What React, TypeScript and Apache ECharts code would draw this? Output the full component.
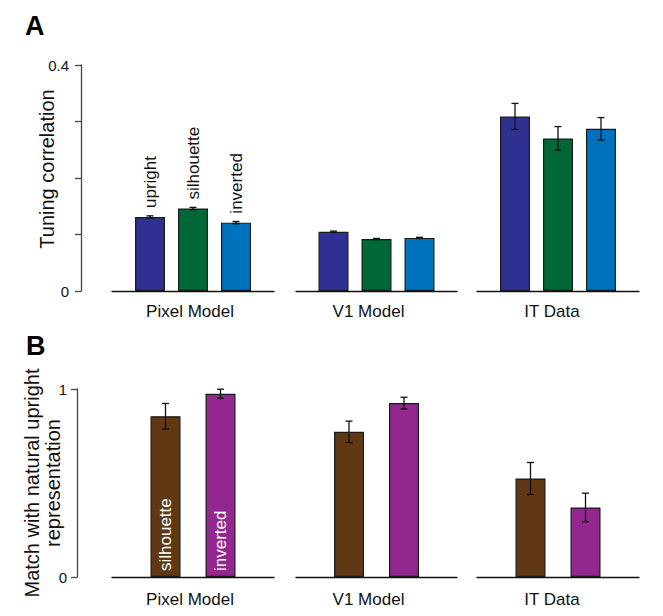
import React, { useEffect, useRef } from "react";
import * as echarts from "echarts";

const categories = ["Pixel Model", "V1 Model", "IT Data"];

// Panel A: tuning correlation
const conditionsA = ["upright", "silhouette", "inverted"];
const uprightCorr = [0.131, 0.105, 0.309];
const silhouetteCorr = [0.146, 0.092, 0.27];
const invertedCorr = [0.121, 0.094, 0.287];
const uprightCorrErr = [0.002, 0.001, 0.023];
const silhouetteCorrErr = [0.002, 0.001, 0.021];
const invertedCorrErr = [0.002, 0.001, 0.02];
const tickLabelsA = [0, 0.4];

// Panel B: match with natural upright representation
const conditionsB = ["silhouette", "inverted"];
const silhouetteMatch = [0.855, 0.772, 0.524];
const invertedMatch = [0.975, 0.925, 0.37];
const silhouetteMatchErr = [0.068, 0.057, 0.085];
const invertedMatchErr = [0.024, 0.031, 0.076];
const tickLabelsB = [0, 1];

const FONT = "'Liberation Sans', Arial, Helvetica, sans-serif";
const colorsA = ["#2E3192", "#006837", "#0071BC"];
const colorsB = ["#603813", "#93278F"];
const groupLefts = [112, 296, 477];
const groupWidths = [162, 161, 162];
const labelShift = [6, 16, 12];
const BAR_W = 30;
const SPACING_A = 43;
const SPACING_B = 55;

function errorSeries(gridIdx: number, rows: number[][], spacing: number) {
  return {
    type: "custom",
    xAxisIndex: gridIdx,
    yAxisIndex: gridIdx,
    z: 10,
    silent: true,
    encode: { x: 0, y: 1 },
    data: rows,
    renderItem: (params: any, api: any) => {
      const x = api.value(0);
      const v = api.value(1);
      const e = api.value(2);
      const k = api.value(3);
      const hi = api.coord([x, v + e]);
      const lo = api.coord([x, v - e]);
      const cx = hi[0] + k * spacing;
      const cap = 3.5;
      const style = { stroke: "#111", lineWidth: 1.3 };
      return {
        type: "group",
        children: [
          { type: "line", shape: { x1: cx, y1: hi[1], x2: cx, y2: lo[1] }, style },
          { type: "line", shape: { x1: cx - cap, y1: hi[1], x2: cx + cap, y2: hi[1] }, style },
          { type: "line", shape: { x1: cx - cap, y1: lo[1], x2: cx + cap, y2: lo[1] }, style },
        ],
      };
    },
  };
}

function buildOption() {
  const valuesA = [uprightCorr, silhouetteCorr, invertedCorr];
  const errsA = [uprightCorrErr, silhouetteCorrErr, invertedCorrErr];
  const valuesB = [silhouetteMatch, invertedMatch];
  const errsB = [silhouetteMatchErr, invertedMatchErr];

  const grids: any[] = [];
  const xAxes: any[] = [];
  const yAxes: any[] = [];
  const series: any[] = [];

  const panels = [
    { top: 65, height: 226, max: 0.4, interval: 0.1, ticks: tickLabelsA, offset: 31, labelMargin: 12, xMargin: 12 },
    { top: 389, height: 188, max: 1, interval: 1, ticks: tickLabelsB, offset: 35, labelMargin: 10, xMargin: 14 },
  ];

  panels.forEach((p, pi) => {
    categories.forEach((cat, g) => {
      const idx = pi * 3 + g;
      grids.push({ left: groupLefts[g], width: groupWidths[g], top: p.top, height: p.height, containLabel: false });
      xAxes.push({
        type: "category",
        gridIndex: idx,
        data: [cat],
        axisTick: { show: false },
        axisLine: { show: true, lineStyle: { color: "#111", width: 1.3 } },
        axisLabel: {
          fontSize: 17,
          fontFamily: FONT,
          color: "#111",
          margin: p.xMargin,
          padding: [0, labelShift[g], 0, 0],
        },
      });
      const yAxis: any = {
        type: "value",
        gridIndex: idx,
        min: 0,
        max: p.max,
        interval: p.interval,
        splitLine: { show: false },
        show: g === 0,
      };
      if (g === 0) {
        Object.assign(yAxis, {
          offset: p.offset,
          axisLine: { show: true, lineStyle: { color: "#444", width: 1.3 } },
          axisTick: { show: true, length: 6, lineStyle: { color: "#444", width: 1.3 } },
          axisLabel: {
            fontSize: 15,
            fontFamily: FONT,
            color: "#111",
            margin: p.labelMargin,
            formatter: (val: number) => {
              const hit = p.ticks.find((t) => Math.abs(t - val) < 1e-9);
              return hit === undefined ? "" : String(hit);
            },
          },
          nameLocation: "middle",
          nameRotate: 90,
          nameMoveOverlap: false,
          name: pi === 0 ? "Tuning correlation" : "Match with natural upright\nrepresentation",
          nameGap: pi === 0 ? 24 : 14,
          nameTextStyle: {
            fontSize: 20,
            fontFamily: FONT,
            color: "#111",
            lineHeight: 21,
            padding: pi === 0 ? [0, 0, 0, 18] : 0,
          },
        });
      }
      yAxes.push(yAxis);

      if (pi === 0) {
        valuesA.forEach((vals, k) => {
          series.push({
            type: "bar",
            xAxisIndex: idx,
            yAxisIndex: idx,
            data: [vals[g]],
            barWidth: BAR_W,
            barGap: ((SPACING_A - BAR_W) / BAR_W) * 100 + "%",
            itemStyle: { color: colorsA[k], borderColor: "#1a1a1a", borderWidth: 1.2 },
            label:
              g === 0
                ? {
                    show: true,
                    formatter: conditionsA[k],
                    position: "top",
                    rotate: 90,
                    align: "left",
                    verticalAlign: "middle",
                    distance: 9,
                    fontSize: 17,
                    fontFamily: FONT,
                    color: "#111",
                  }
                : { show: false },
          });
        });
        series.push(
          errorSeries(
            idx,
            valuesA.map((vals, k) => [0, vals[g], errsA[k][g], k - 1]),
            SPACING_A
          )
        );
      } else {
        valuesB.forEach((vals, k) => {
          series.push({
            type: "bar",
            xAxisIndex: idx,
            yAxisIndex: idx,
            data: [vals[g]],
            barWidth: BAR_W,
            barGap: ((SPACING_B - BAR_W) / BAR_W) * 100 + "%",
            itemStyle: { color: colorsB[k], borderColor: "#1a1a1a", borderWidth: 1.2 },
            label:
              g === 0
                ? {
                    show: true,
                    formatter: conditionsB[k],
                    position: "insideBottom",
                    rotate: 90,
                    align: "left",
                    verticalAlign: "middle",
                    distance: 6,
                    fontSize: 17,
                    fontFamily: FONT,
                    color: "#fff",
                  }
                : { show: false },
          });
        });
        series.push(
          errorSeries(
            idx,
            valuesB.map((vals, k) => [0, vals[g], errsB[k][g], k - 0.5]),
            SPACING_B
          )
        );
      }
    });
  });

  return {
    animation: false,
    backgroundColor: "#fff",
    title: [
      { text: "A", left: 25, top: 12, padding: 0, textStyle: { fontSize: 27, fontWeight: "bold", fontFamily: FONT, color: "#000" } },
      { text: "B", left: 26, top: 332, padding: 0, textStyle: { fontSize: 27, fontWeight: "bold", fontFamily: FONT, color: "#000" } },
    ],
    grid: grids,
    xAxis: xAxes,
    yAxis: yAxes,
    series,
  };
}

export default function App() {
  const ref = useRef<HTMLDivElement>(null);
  useEffect(() => {
    if (!ref.current) return;
    const chart = echarts.init(ref.current, null, { renderer: "svg" });
    chart.setOption(buildOption() as any);
    return () => chart.dispose();
  }, []);
  return (
    <div
      ref={ref}
      style={{ position: "fixed", left: 0, top: 0, width: 663, height: 616, background: "#fff" }}
    />
  );
}
